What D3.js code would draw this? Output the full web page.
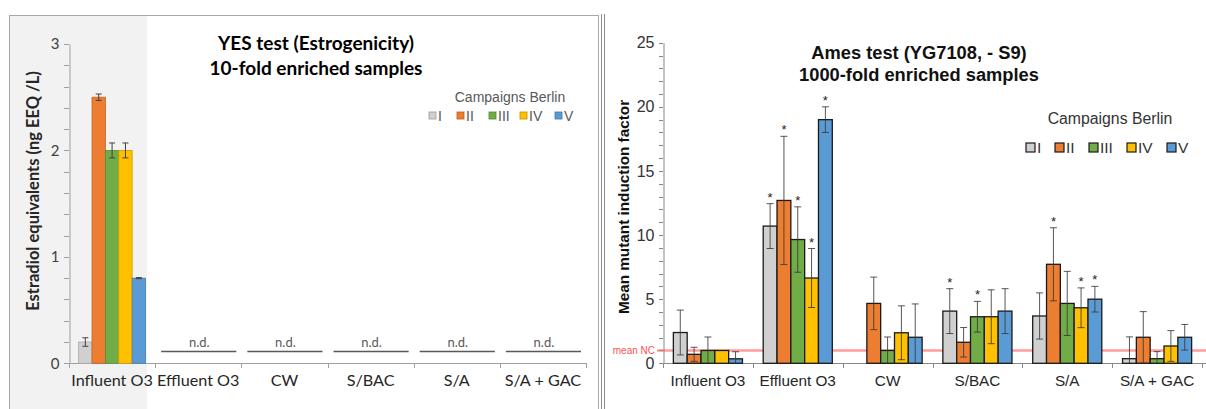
<!DOCTYPE html>
<html>
<head>
<meta charset="utf-8">
<script src="https://cdn.jsdelivr.net/npm/d3@7"></script>
<style>
  body { margin: 0; background: #fff; }
  svg { display: block; }
</style>
</head>
<body>
<svg id="chart" width="1206" height="409"></svg>
<script>
// categories and campaigns shared by both panels
const categories = ["Influent O3", "Effluent O3", "CW", "S/BAC", "S/A", "S/A + GAC"];
const campaigns = ["I", "II", "III", "IV", "V"];
const campaignColors = ["#d0d0d0", "#ed7d31", "#70ad47", "#ffc000", "#5b9bd5"];

// YES test: only Influent O3 measured, everything else n.d.
const yesMean = [[0.2, 2.5, 2.0, 2.0, 0.8], null, null, null, null, null];
const yesErr = [[0.04, 0.03, 0.07, 0.07, 0.005], null, null, null, null, null];
const yesNdLevel = 0.11;
const yesTicks = [0, 1, 2, 3];

// Ames test values per category (campaigns I..V)
const amesMean = [
  [2.4, 0.7, 1.0, 1.0, 0.35],
  [10.7, 12.7, 9.65, 6.65, 19.0],
  [0, 4.67, 1.0, 2.38, 2.03],
  [4.07, 1.64, 3.63, 3.63, 4.07],
  [3.69, 7.72, 4.67, 4.33, 5.0],
  [0.36, 2.03, 0.36, 1.35, 2.03]
];
const amesErr = [
  [1.75, 0.55, 1.05, 0, 0.55],
  [1.75, 5.0, 2.55, 2.3, 1.0],
  [0, 2.05, 1.05, 2.1, 2.6],
  [1.75, 1.15, 1.2, 2.1, 1.75],
  [1.8, 2.85, 2.5, 1.55, 1.0],
  [1.7, 2.0, 0.55, 1.2, 1.0]
];
const amesStar = [
  [0, 0, 0, 0, 0],
  [1, 1, 1, 1, 1],
  [0, 0, 0, 0, 0],
  [1, 0, 1, 0, 0],
  [0, 1, 0, 1, 1],
  [0, 0, 0, 0, 0]
];
const amesTicks = [0, 5, 10, 15, 20, 25];
const meanNC = 1;

const svg = d3.select("#chart");
const calibri = "Lato, 'Open Sans', sans-serif";
const arial = "'Liberation Sans', Arial, sans-serif";

// ---------- panel frames ----------
svg.append("rect") // shaded first category column
  .attr("x", 10).attr("y", 16).attr("width", 137).attr("height", 400)
  .attr("fill", "#f2f2f2");
svg.append("rect")
  .attr("x", 9.5).attr("y", 15.5).attr("width", 589).attr("height", 420)
  .attr("fill", "none").attr("stroke", "#a8a8a8");
[601.5, 604.5].forEach((x) => {
  svg.append("line")
    .attr("x1", x).attr("x2", x).attr("y1", 14).attr("y2", 409)
    .attr("stroke", "#8c8c8c");
});

// ---------- left panel: YES test ----------
const yL = d3.scaleLinear().domain([0, 3]).range([363.3, 44]);
const xL = d3.scaleBand().domain(categories).range([69, 586]);
const xLi = d3.scaleBand().domain(campaigns).range([0, xL.bandwidth()]).paddingOuter(0.72);

const left = svg.append("g");

// minor ticks every 0.2
left.append("g")
  .selectAll("line")
  .data(d3.range(0, 3.01, 0.2))
  .join("line")
  .attr("x1", 64).attr("x2", 69)
  .attr("y1", (d) => Math.round(yL(d)) + 0.5)
  .attr("y2", (d) => Math.round(yL(d)) + 0.5)
  .attr("stroke", "#a0a0a0");

const yAxisL = left.append("g")
  .attr("transform", "translate(69.5,0)")
  .call(d3.axisLeft(yL).tickValues(yesTicks).tickSize(0).tickPadding(10).tickFormat(d3.format("d")));
yAxisL.select(".domain").attr("stroke", "#a0a0a0");
yAxisL.selectAll("text").attr("font-family", calibri).attr("font-size", 15).attr("fill", "#404040");

// x axis with ticks at band edges
left.append("line")
  .attr("x1", 69).attr("x2", 586).attr("y1", 363.5).attr("y2", 363.5)
  .attr("stroke", "#a0a0a0");
left.append("g")
  .selectAll("line")
  .data(categories.map((c) => xL(c)).concat([586]))
  .join("line")
  .attr("x1", (d) => Math.round(d) + 0.5).attr("x2", (d) => Math.round(d) + 0.5)
  .attr("y1", 363).attr("y2", 368)
  .attr("stroke", "#a0a0a0");
left.append("g")
  .selectAll("text")
  .data(categories)
  .join("text")
  .attr("x", (d) => xL(d) + xL.bandwidth() / 2)
  .attr("y", 386)
  .attr("text-anchor", "middle")
  .attr("font-family", calibri).attr("font-size", 16.2).attr("fill", "#262626")
  .text((d) => d);

// bars and error bars
categories.forEach((cat, ci) => {
  const vals = yesMean[ci];
  const g = left.append("g").attr("transform", `translate(${xL(cat)},0)`);
  if (!vals) {
    // n.d. marker
    g.append("line")
      .attr("x1", 6).attr("x2", xL.bandwidth() - 5)
      .attr("y1", yL(yesNdLevel)).attr("y2", yL(yesNdLevel))
      .attr("stroke", "#595959").attr("stroke-width", 1.5);
    g.append("text")
      .attr("x", xL.bandwidth() / 2 + 1).attr("y", yL(yesNdLevel) - 5)
      .attr("text-anchor", "middle")
      .attr("font-family", calibri).attr("font-size", 13).attr("fill", "#595959")
      .text("n.d.");
    return;
  }
  vals.forEach((v, si) => {
    const x = xLi(campaigns[si]);
    g.append("rect")
      .attr("x", x).attr("y", yL(v))
      .attr("width", xLi.bandwidth()).attr("height", yL(0) - yL(v))
      .attr("fill", campaignColors[si])
      .attr("stroke", d3.color(campaignColors[si]).darker(0.6))
      .attr("stroke-width", 0.8);
    const e = yesErr[ci][si];
    const cx = x + xLi.bandwidth() / 2;
    const eg = g.append("g").attr("stroke", "#404040").attr("stroke-width", 1);
    eg.append("line").attr("x1", cx).attr("x2", cx).attr("y1", yL(v + e)).attr("y2", yL(v - e));
    [v + e, v - e].forEach((ev) => {
      eg.append("line").attr("x1", cx - 3).attr("x2", cx + 3).attr("y1", yL(ev)).attr("y2", yL(ev));
    });
  });
});

// title
left.append("text")
  .attr("x", 316).attr("text-anchor", "middle")
  .attr("font-family", calibri).attr("font-weight", "bold").attr("font-size", 19).attr("fill", "#000")
  .selectAll("tspan")
  .data(["YES test (Estrogenicity)", "10-fold enriched samples"])
  .join("tspan")
  .attr("x", 316).attr("y", (d, i) => 50 + i * 25)
  .text((d) => d);

// y label
left.append("text")
  .attr("transform", "translate(39,191) rotate(-90)")
  .attr("text-anchor", "middle")
  .attr("font-family", calibri).attr("font-weight", "bold").attr("font-size", 16.5).attr("fill", "#262626")
  .text("Estradiol equivalents (ng EEQ /L)");

// legend
left.append("text")
  .attr("x", 510).attr("y", 102).attr("text-anchor", "middle")
  .attr("font-family", arial).attr("font-size", 14).attr("fill", "#595959")
  .text("Campaigns Berlin");
const legL = left.append("g");
const legLX = [429, 457, 489, 520, 555];
campaigns.forEach((c, i) => {
  legL.append("rect")
    .attr("x", legLX[i]).attr("y", 112).attr("width", 7).attr("height", 7)
    .attr("fill", campaignColors[i]).attr("stroke", d3.color(campaignColors[i]).darker(0.8)).attr("stroke-width", 0.8);
  legL.append("text")
    .attr("x", legLX[i] + 9).attr("y", 121)
    .attr("font-family", arial).attr("font-size", 14).attr("fill", "#595959")
    .text(c);
});

// ---------- right panel: Ames test ----------
const yR = d3.scaleLinear().domain([0, 25]).range([363.3, 42.7]);
const xR = d3.scaleBand().domain(categories).range([663, 1202]);
const xRi = d3.scaleBand().domain(campaigns).range([0, xR.bandwidth()]).paddingOuter(0.75);

const right = svg.append("g");

right.append("g")
  .selectAll("line")
  .data(d3.range(0, 26, 1))
  .join("line")
  .attr("x1", 659).attr("x2", 663)
  .attr("y1", (d) => Math.round(yR(d)) + 0.5)
  .attr("y2", (d) => Math.round(yR(d)) + 0.5)
  .attr("stroke", "#888");

const yAxisR = right.append("g")
  .attr("transform", "translate(663.5,0)")
  .call(d3.axisLeft(yR).tickValues(amesTicks).tickSize(0).tickPadding(9));
yAxisR.select(".domain").attr("stroke", "#888");
yAxisR.selectAll("text").attr("font-family", arial).attr("font-size", 16).attr("fill", "#333");

right.append("line")
  .attr("x1", 663).attr("x2", 1206).attr("y1", 363.5).attr("y2", 363.5)
  .attr("stroke", "#888");
right.append("g")
  .selectAll("line")
  .data(categories.map((c) => xR(c)).concat([1202]))
  .join("line")
  .attr("x1", (d) => Math.round(d) + 0.5).attr("x2", (d) => Math.round(d) + 0.5)
  .attr("y1", 363).attr("y2", 368)
  .attr("stroke", "#888");
right.append("g")
  .selectAll("text")
  .data(categories)
  .join("text")
  .attr("x", (d) => xR(d) + xR.bandwidth() / 2)
  .attr("y", 386)
  .attr("text-anchor", "middle")
  .attr("font-family", arial).attr("font-size", 15.3).attr("fill", "#262626")
  .text((d) => d);

// mean NC reference line
right.append("line")
  .attr("x1", 657).attr("x2", 1206)
  .attr("y1", yR(meanNC)).attr("y2", yR(meanNC))
  .attr("stroke", "#ff5a5a").attr("stroke-opacity", 0.6).attr("stroke-width", 2.5);
right.append("text")
  .attr("x", 655).attr("y", yR(meanNC) + 3.5).attr("text-anchor", "end")
  .attr("font-family", arial).attr("font-size", 10).attr("fill", "#ff5050")
  .text("mean NC");

categories.forEach((cat, ci) => {
  const g = right.append("g").attr("transform", `translate(${xR(cat)},0)`);
  amesMean[ci].forEach((v, si) => {
    if (v <= 0) return;
    const x = xRi(campaigns[si]);
    g.append("rect")
      .attr("x", x).attr("y", yR(v))
      .attr("width", xRi.bandwidth()).attr("height", yR(0) - yR(v))
      .attr("fill", campaignColors[si])
      .attr("stroke", "#1a1a1a").attr("stroke-width", 1.3);
  });
  amesMean[ci].forEach((v, si) => {
    const e = amesErr[ci][si];
    const cx = xRi(campaigns[si]) + xRi.bandwidth() / 2;
    if (e > 0) {
      const lo = Math.max(0, v - e);
      const eg = g.append("g").attr("stroke", "#3a3a3a").attr("stroke-width", 1).attr("stroke-opacity", 0.85);
      eg.append("line").attr("x1", cx).attr("x2", cx).attr("y1", yR(v + e)).attr("y2", yR(lo));
      eg.append("line").attr("x1", cx - 3.5).attr("x2", cx + 3.5).attr("y1", yR(v + e)).attr("y2", yR(v + e));
      if (v - e > 0) {
        eg.append("line").attr("x1", cx - 3.5).attr("x2", cx + 3.5).attr("y1", yR(lo)).attr("y2", yR(lo));
      }
    }
    if (amesStar[ci][si]) {
      g.append("text")
        .attr("x", cx).attr("y", yR(v + e) - 2)
        .attr("text-anchor", "middle")
        .attr("font-family", arial).attr("font-size", 13).attr("fill", "#222")
        .text("*");
    }
  });
});

right.append("text")
  .attr("text-anchor", "middle")
  .attr("font-family", arial).attr("font-weight", "bold").attr("font-size", 18.3).attr("fill", "#111")
  .selectAll("tspan")
  .data(["Ames test (YG7108, - S9)", "1000-fold enriched samples"])
  .join("tspan")
  .attr("x", 919).attr("y", (d, i) => 59 + i * 22)
  .text((d) => d);

right.append("text")
  .attr("transform", "translate(629,207) rotate(-90)")
  .attr("text-anchor", "middle")
  .attr("font-family", arial).attr("font-weight", "bold").attr("font-size", 15.3).attr("fill", "#111")
  .text("Mean mutant induction factor");

right.append("text")
  .attr("x", 1110).attr("y", 124).attr("text-anchor", "middle")
  .attr("font-family", arial).attr("font-size", 15.8).attr("fill", "#333")
  .text("Campaigns Berlin");
const legR = right.append("g");
const legRX = [1026, 1055, 1089, 1127, 1167];
campaigns.forEach((c, i) => {
  legR.append("rect")
    .attr("x", legRX[i]).attr("y", 143).attr("width", 9).attr("height", 9)
    .attr("fill", campaignColors[i]).attr("stroke", "#1a1a1a").attr("stroke-width", 1.2);
  legR.append("text")
    .attr("x", legRX[i] + 11).attr("y", 153)
    .attr("font-family", arial).attr("font-size", 15.5).attr("fill", "#333")
    .text(c);
});
</script>
</body>
</html>
